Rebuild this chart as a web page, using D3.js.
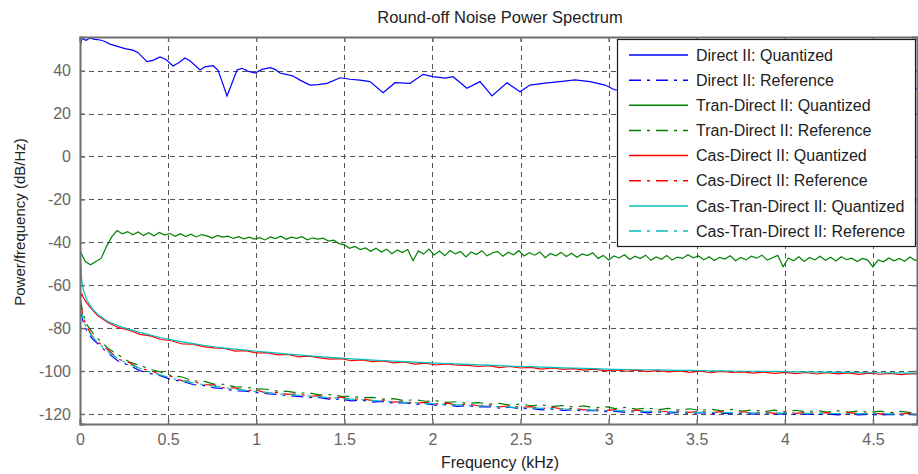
<!DOCTYPE html>
<html>
<head>
<meta charset="utf-8">
<script src="https://cdn.jsdelivr.net/npm/d3@7/dist/d3.min.js"></script>
<style>
  body { margin: 0; background: #fff; }
  text { font-family: "Liberation Sans", Arial, sans-serif; }
</style>
</head>
<body>
<div id="chart"></div>
<script>
// ---- data ----
var xTicks = [0, 0.5, 1, 1.5, 2, 2.5, 3, 3.5, 4, 4.5];
var yTicks = [-120, -100, -80, -60, -40, -20, 0, 20, 40];

var legendNames = [
  'Direct II: Quantized', 'Direct II: Reference',
  'Tran-Direct II: Quantized', 'Tran-Direct II: Reference',
  'Cas-Direct II: Quantized', 'Cas-Direct II: Reference',
  'Cas-Tran-Direct II: Quantized', 'Cas-Tran-Direct II: Reference'
];

// Direct II quantized, read point by point (kHz, dB/Hz)
var directFreq = [0, 0.011, 0.034, 0.057, 0.085, 0.114, 0.142, 0.17, 0.227, 0.255,
  0.30, 0.33, 0.38, 0.414, 0.454, 0.488, 0.528, 0.562, 0.596, 0.624,
  0.681, 0.709, 0.755, 0.783, 0.806, 0.834, 0.857, 0.891, 0.919, 0.953,
  0.993, 1.033, 1.078, 1.107, 1.135, 1.175, 1.209, 1.249, 1.305, 1.351,
  1.402, 1.476, 1.532, 1.589, 1.646, 1.72, 1.788, 1.873, 1.947, 2.003,
  2.072, 2.117, 2.196, 2.27, 2.338, 2.423, 2.497, 2.554, 2.639, 2.724,
  2.809, 2.894, 2.98, 3.036, 3.2, 3.5, 3.8, 4.1, 4.4, 4.76];
var directQuant = [51, 55, 54.2, 55.2, 54.6, 54.3, 53.6, 52.4, 51, 50.3,
  49.6, 48.4, 44.2, 44.8, 46.4, 45.2, 42.2, 43.8, 45.9, 44.6,
  40.3, 41.8, 42.3, 40.3, 35, 28.2, 33, 40.3, 41.1, 39.8,
  38.9, 40.6, 41.4, 40.6, 38.9, 38.2, 37.5, 35.6, 33.3, 33.5,
  34.1, 36.7, 36, 35.6, 34.9, 29.7, 34.4, 34.1, 38.3, 37.2,
  36.5, 37.2, 31.8, 34.9, 28.2, 34.4, 30.2, 33.3, 34.2, 34.9,
  35.7, 34.9, 33.3, 31, 31.5, 32.5, 33, 32, 32.5, 31.5];

// Tran-Direct II quantized, 0.03 kHz apart
var tranStep = 0.03;
var tranQuant = [
  -44, -49, -50.5, -49, -47.5, -42, -37.5, -34.5, -36, -35,
  -36.5, -35.2, -36.8, -35.5, -37, -35.4, -36.6, -35.8, -37.2, -36,
  -37.3, -36.2, -37.5, -36.4, -37, -38, -36.8, -37.6, -37.1, -38.2,
  -37.4, -38.4, -37.6, -38.5, -37.8, -38.9, -37.5, -38.3, -37.2, -38.6,
  -37.6, -38.2, -37.4, -38.8, -37.9, -38.5, -38.1, -39.4, -39, -40.6,
  -41.2, -42.8, -41.9, -43.4, -42.6, -44.2, -42.8, -44.5, -43.2, -45.3,
  -43.6, -44.8, -43.4, -48.6, -44, -45.5, -43.2, -45.9, -44.1, -46.2,
  -43.8, -45.4, -44.3, -46.8, -44.5, -45.7, -43.9, -46.3, -45, -44.2,
  -46.5, -44.6, -45.8, -43.9, -46.4, -44.8, -46, -44.5, -47.2, -45.2,
  -46.3, -44.7, -46.6, -45.1, -47, -45.4, -46.2, -44.9, -47.5, -46.1,
  -48.2, -46.4, -47.3, -45.8, -48, -46.5, -47.6, -46, -48.4, -46.8,
  -47.9, -46.2, -48.3, -46.9, -47.5, -45.8, -47.2, -46.4, -48.1, -46.7,
  -48.5, -47, -47.8, -46.3, -48.6, -47.1, -48.2, -46.5, -47.4, -46,
  -48.3, -47.2, -46.1, -51.4, -47.3, -48.6, -46.8, -48.9, -47.1, -48.2,
  -46.5, -48.4, -47, -48.7, -46.7, -48.1, -47.4, -49, -47.5, -48.3,
  -51.5, -48.2, -49.1, -47.3, -48.6, -47.5, -48.8, -46.9, -48.4, -47.8];

// low curves: a few points near 0, then 0.06 kHz apart from 0.10
var lowStart = [0, 0.01, 0.02, 0.04, 0.07];
var lowFirst = 0.10, lowStep = 0.06;

var directRef = [
  -72, -74, -78, -81.5, -85, -87.2, -91.8, -95.5, -97.4, -99.8, -101.2, -102.3,
  -104.1, -104.8, -106.3, -106.7, -107.9, -108.2, -109.3, -109.4, -110.1, -110.6, -110.9, -111.5,
  -111.8, -112.3, -112.4, -113.2, -113.1, -113.9, -113.6, -114.5, -114.2, -115.1, -114.8, -115.6,
  -115.2, -115.9, -115.7, -116.5, -116.1, -116.8, -116.6, -117.3, -116.9, -117.6, -117.4, -118.1,
  -117.7, -118.4, -118.1, -118.7, -118.4, -119, -118.8, -119.3, -118.9, -119.5, -119.1, -119.6,
  -119.3, -119.8, -119.4, -119.9, -119.6, -120, -119.7, -120.1, -119.8, -120.2, -119.9, -120.2,
  -120, -120.3, -120, -120.4, -120.1, -120.4, -120.2, -120.5, -120.2, -120.5, -120.3, -120.6];
var tranRef = [
  -66, -70, -74, -78.5, -82, -84.8, -89.5, -92.6, -95.8, -97.4, -99.2, -100.5,
  -102.2, -102.8, -104.6, -104.7, -106.1, -106.2, -107.4, -107.5, -108.3, -108.5, -109.4, -109.5,
  -110.3, -110.2, -111.1, -111, -111.7, -111.8, -112.4, -112.3, -113.1, -112.9, -113.8, -113.4,
  -114.1, -113.9, -114.6, -114.3, -115.1, -114.7, -115.4, -115.1, -115.9, -115.4, -116.2, -115.8,
  -116.5, -116.1, -116.8, -116.3, -117.2, -116.6, -117.5, -116.9, -117.8, -117.2, -118, -117.4,
  -118.2, -117.6, -118.4, -117.8, -118.6, -117.9, -118.7, -118.1, -118.9, -118.2, -119, -118.3,
  -119.1, -118.4, -119.2, -118.5, -119.2, -118.6, -119.3, -118.7, -119.4, -118.8, -119.4, -118.9];
var casQuant = [
  -66, -64, -66, -68.5, -71.5, -74.2, -77.5, -79.8, -81, -82.9, -83.6, -85.3,
  -85.9, -87.4, -87.5, -88.6, -89.2, -89.5, -90.7, -90.5, -91.6, -91.4, -92.5, -92.3,
  -93.4, -93.1, -93.9, -94.5, -94.2, -95.2, -94.8, -95.6, -95.3, -96.2, -95.8, -96.8,
  -96.3, -97.2, -96.7, -97.3, -97.4, -97.9, -97.5, -98.4, -97.9, -98.6, -98.3, -99.1,
  -98.6, -99.2, -98.9, -99.6, -99.1, -99.9, -99.5, -100.1, -99.6, -100.3, -99.8, -100.4,
  -99.9, -100.6, -100.1, -100.8, -100.2, -100.7, -100.4, -101, -100.5, -101.1, -100.6, -101.2,
  -100.7, -101.4, -100.8, -101.3, -100.9, -101.6, -101, -101.5, -101.1, -101.7, -101.2, -101.5];
var casRef = [
  -68, -71, -75.5, -79.5, -83.8, -86.4, -90.2, -94.6, -96.1, -99, -99.6, -102.1,
  -102.6, -104.6, -104.8, -106.4, -106.5, -107.9, -107.8, -109.1, -108.9, -110.3, -110, -110.9,
  -110.7, -111.8, -111.5, -112.6, -112.2, -113.2, -112.9, -113.8, -113.6, -114.5, -114.1, -115.1,
  -114.6, -115.3, -115, -115.9, -115.4, -116.2, -115.8, -116.7, -116.2, -117, -116.6, -117.5,
  -116.9, -117.8, -117.3, -118.1, -117.7, -118.5, -118, -118.7, -118.2, -119, -118.5, -119.1,
  -118.7, -119.3, -118.8, -119.4, -118.9, -119.5, -119, -119.6, -119.1, -119.7, -119.2, -119.7,
  -119.3, -119.8, -119.4, -119.9, -119.4, -119.9, -119.5, -120, -119.5, -120, -119.6, -120.1];
var casTranQuant = [
  -45, -58, -62.5, -67, -71, -73.6, -77, -79, -80.6, -82, -83.3, -84.5,
  -85.5, -86.4, -87.2, -88, -88.7, -89.3, -89.8, -90.3, -90.8, -91.2, -91.7, -92.1,
  -92.5, -92.9, -93.3, -93.6, -94, -94.3, -94.6, -94.9, -95.1, -95.4, -95.6, -95.9,
  -96.1, -96.3, -96.5, -96.7, -96.9, -97.1, -97.3, -97.5, -97.7, -97.9, -98, -98.2,
  -98.3, -98.5, -98.6, -98.8, -98.9, -99.1, -99.2, -99.3, -99.4, -99.4, -99.5, -99.6,
  -99.7, -99.7, -99.8, -99.9, -99.9, -100, -100.1, -100.1, -100.2, -100.2, -100.3, -100.4,
  -100.4, -100.5, -100.5, -100.6, -100.6, -100.7, -100.8, -100.8, -100.9, -100.9, -101, -101];
var casTranRef = [
  -70, -73, -77, -80.5, -84, -86.6, -91, -94.5, -96.9, -98.7, -100.5, -101.9,
  -103.3, -104.5, -105.5, -106.3, -107.1, -107.8, -108.4, -109, -109.5, -110, -110.5, -110.9,
  -111.3, -111.7, -112.1, -112.4, -112.8, -113.1, -113.4, -113.7, -114, -114.3, -114.6, -114.8,
  -115.1, -115.3, -115.6, -115.8, -116, -116.2, -116.4, -116.6, -116.8, -117, -117.2, -117.4,
  -117.5, -117.7, -117.9, -118, -118.2, -118.4, -118.5, -118.6, -118.7, -118.8, -118.9, -119,
  -119.1, -119.2, -119.3, -119.3, -119.4, -119.4, -119.5, -119.5, -119.6, -119.6, -119.6, -119.7,
  -119.7, -119.7, -119.8, -119.8, -119.8, -119.9, -119.9, -119.9, -120, -120, -120, -120.1];

// ---- layout ----
var width = 918, height = 474;
var pLeft = 80, pRight = 917, pTop = 37, pBottom = 424;
var colors = ['#0000ff', '#0000ff', '#008000', '#008000', '#ff0000', '#ff0000', '#00bfbf', '#00bfbf'];
var dashDot = '12,6,3,6';

var tranFreq = tranQuant.map(function(d, i) { return i * tranStep; });
var lowFreq = lowStart.concat(directRef.slice(lowStart.length).map(function(d, i) { return lowFirst + i * lowStep; }));

var series = [
  { f: directFreq, v: directQuant, dash: null },
  { f: lowFreq, v: directRef, dash: dashDot },
  { f: tranFreq, v: tranQuant, dash: null },
  { f: lowFreq, v: tranRef, dash: dashDot },
  { f: lowFreq, v: casQuant, dash: null },
  { f: lowFreq, v: casRef, dash: dashDot },
  { f: lowFreq, v: casTranQuant, dash: null },
  { f: lowFreq, v: casTranRef, dash: dashDot }
];

var x = d3.scaleLinear().domain([0, 4.75]).range([pLeft, pRight]);
var y = d3.scaleLinear().domain([-124.7, 55.7]).range([pBottom, pTop]);

var svg = d3.select('#chart').append('svg')
  .attr('width', width)
  .attr('height', height);

svg.append('defs').append('clipPath').attr('id', 'plot')
  .append('rect')
  .attr('x', pLeft).attr('y', pTop)
  .attr('width', pRight - pLeft).attr('height', pBottom - pTop);

// grid
var grid = svg.append('g').attr('stroke', '#555').attr('stroke-dasharray', '5,4').attr('stroke-width', 1);
grid.selectAll('line.gx').data(xTicks.slice(1)).enter().append('line')
  .attr('x1', function(d) { return Math.round(x(d)) + 0.5; })
  .attr('x2', function(d) { return Math.round(x(d)) + 0.5; })
  .attr('y1', pTop).attr('y2', pBottom);
grid.selectAll('line.gy').data(yTicks).enter().append('line')
  .attr('y1', function(d) { return Math.round(y(d)) + 0.5; })
  .attr('y2', function(d) { return Math.round(y(d)) + 0.5; })
  .attr('x1', pLeft).attr('x2', pRight);

// lines
var line = d3.line()
  .x(function(d) { return x(d[0]); })
  .y(function(d) { return y(d[1]); });

var plot = svg.append('g').attr('clip-path', 'url(#plot)');
series.forEach(function(s, i) {
  plot.append('path')
    .attr('d', line(d3.zip(s.f, s.v)))
    .attr('fill', 'none')
    .attr('stroke', colors[i])
    .attr('stroke-width', 1.2)
    .attr('stroke-dasharray', s.dash);
});

// axes (ticks inside, MATLAB-ish)
var axisColor = '#6e6e6e';
var bottomAxis = svg.append('g').attr('transform', 'translate(0,' + pBottom + ')')
  .call(d3.axisBottom(x).tickValues(xTicks).tickSize(-5).tickPadding(10).tickFormat(d3.format('')));
var leftAxis = svg.append('g').attr('transform', 'translate(' + pLeft + ',0)')
  .call(d3.axisLeft(y).tickValues(yTicks).tickSize(-5).tickPadding(9).tickFormat(function(d) { return d < 0 ? '-' + Math.abs(d) : d; }));
var topAxis = svg.append('g').attr('transform', 'translate(0,' + pTop + ')')
  .call(d3.axisTop(x).tickValues(xTicks).tickSize(-5).tickFormat(''));
var rightAxis = svg.append('g').attr('transform', 'translate(' + pRight + ',0)')
  .call(d3.axisRight(y).tickValues(yTicks).tickSize(-5).tickFormat(''));

[bottomAxis, leftAxis, topAxis, rightAxis].forEach(function(a) {
  a.select('.domain').attr('stroke', axisColor).attr('stroke-width', 2);
  a.selectAll('.tick line').attr('stroke', axisColor).attr('stroke-width', 1.5);
  a.selectAll('.tick text').attr('fill', '#666').style('font-size', '16px');
});

// titles
svg.append('text')
  .attr('x', 500).attr('y', 23)
  .attr('text-anchor', 'middle')
  .attr('fill', '#222')
  .style('font-size', '16.5px')
  .text('Round-off Noise Power Spectrum');

svg.append('text')
  .attr('x', 500).attr('y', 468)
  .attr('text-anchor', 'middle')
  .attr('fill', '#222')
  .style('font-size', '16px')
  .text('Frequency (kHz)');

svg.append('text')
  .attr('transform', 'translate(25,222) rotate(-90)')
  .attr('text-anchor', 'middle')
  .attr('fill', '#222')
  .style('font-size', '15px')
  .text('Power/frequency (dB/Hz)');

// legend
var lg = svg.append('g');
lg.append('rect')
  .attr('x', 617.5).attr('y', 39.5)
  .attr('width', 298).attr('height', 207)
  .attr('fill', '#fff')
  .attr('stroke', '#1a1a1a')
  .attr('stroke-width', 1.2);

var rows = lg.selectAll('g.row').data(legendNames).enter().append('g')
  .attr('transform', function(d, i) { return 'translate(0,' + (55 + i * 25.15) + ')'; });
rows.append('line')
  .attr('x1', 629).attr('x2', 688)
  .attr('stroke', function(d, i) { return colors[i]; })
  .attr('stroke-width', 1.5)
  .attr('stroke-dasharray', function(d, i) { return series[i].dash; });
rows.append('text')
  .attr('x', 696).attr('dy', '0.35em')
  .attr('fill', '#222')
  .style('font-size', '16px')
  .text(function(d) { return d; });
</script>
</body>
</html>
